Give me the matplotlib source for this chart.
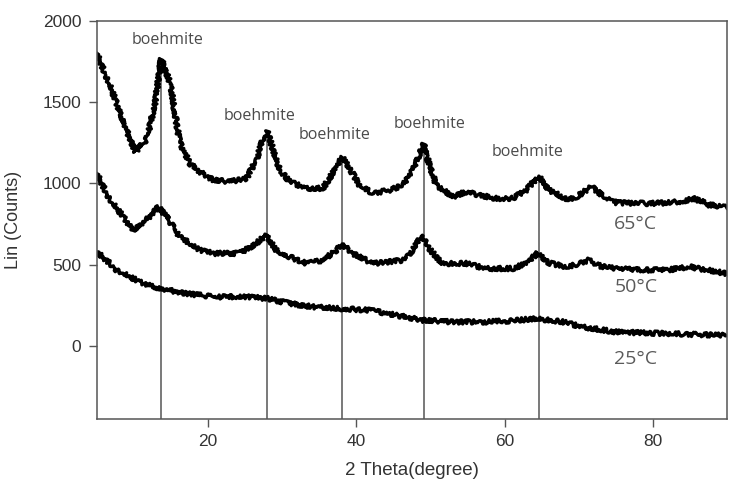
import numpy as np
import matplotlib
matplotlib.use("Agg")
import matplotlib.pyplot as plt

# XRD patterns (2 theta, counts)
x65 = [5, 6.3, 7.7, 9.0, 10.2, 11.7, 12.8, 13.7, 14.9, 16.2, 17.6, 18.9, 20.7, 22.9, 25.2, 26.5,
       27.4, 28.0, 28.8, 29.7, 31.0, 33.3, 35.5, 36.8, 38.1, 39.1, 40.4, 42.2, 44.5, 46.3, 47.6,
       49.1, 49.9, 50.8, 53.0, 54.8, 56.6, 58.8, 61.1, 62.9, 64.6, 66.0, 68.3, 69.5, 71.7, 73.2,
       75.1, 77.5, 79.6, 82.0, 84.0, 85.4, 86.5, 87.6, 90]
y65 = [1800, 1656, 1492, 1328, 1194, 1266, 1471, 1765, 1615, 1250, 1120, 1071, 1020, 1010, 1030, 1143,
       1266, 1317, 1204, 1081, 1010, 969, 969, 1061, 1160, 1092, 989, 938, 958, 989, 1081,
       1240, 1102, 989, 917, 948, 927, 907, 907, 958, 1045, 958, 905, 910, 979, 925,
       880, 878, 876, 880, 890, 907, 890, 866, 856]

x50 = [5, 6.8, 8.6, 9.9, 11.7, 13.3, 14.4, 16.2, 18.9, 20.7, 24.3, 26.5, 27.8, 29.2, 31.0, 33.3,
       35.5, 37.3, 38.1, 39.5, 42.2, 46.3, 47.6, 48.9, 49.6, 51.6, 54.8, 57.5, 61.1, 62.9, 64.4,
       66.0, 68.5, 71.3, 73.0, 75.1, 79.6, 82.5, 85.0, 87.5, 90]
y50 = [1061, 897, 794, 712, 774, 856, 794, 671, 589, 569, 569, 630, 681, 589, 548, 507,
       527, 589, 626, 569, 507, 527, 589, 681, 609, 507, 507, 476, 476, 507, 569,
       510, 483, 527, 490, 476, 466, 470, 486, 465, 445]

x25 = [5, 6.8, 7.7, 10.8, 13.5, 17.1, 20.7, 25.2, 27.9, 31.0, 34.2, 37.7, 41.8, 45.4, 49.0, 53.0,
       57.5, 61.1, 64.2, 67.8, 70.5, 75.0, 81.7, 86.0, 90]
y25 = [579, 507, 466, 394, 353, 322, 302, 302, 292, 261, 240, 230, 220, 189, 158, 148,
       148, 154, 169, 148, 117, 86, 76, 70, 66]

# boehmite reference lines (position, top of line) and label spots
peak_pos = [13.7, 28.0, 38.1, 49.1, 64.6]
peak_top = [1765, 1317, 1160, 1240, 1045]
label_x = [14.6, 27.0, 37.1, 49.9, 63.1]
label_y = [1882, 1413, 1297, 1364, 1194]

temp_labels = ["65°C", "50°C", "25°C"]
temp_y = [749, 363, -78]

fig = plt.figure(figsize=(7.3, 4.79), dpi=100)
ax = fig.add_axes([0.1325, 0.125, 0.8635, 0.832])

gray = "#555555"
for xs, ys in [(x65, y65), (x50, y50), (x25, y25)]:
    ln, = ax.plot(xs, ys, color="black", lw=2.4, solid_joinstyle="round")
    ln.set_sketch_params(scale=2.2, length=1.0, randomness=4)

ax.vlines(peak_pos, -450, peak_top, color=gray, lw=1.1, zorder=1)

for lx, ly in zip(label_x, label_y):
    ax.text(lx, ly, "boehmite", ha="center", va="center", fontsize=11.5,
            color="#4a4a4a", family="Open Sans")
for t, ty in zip(temp_labels, temp_y):
    ax.text(77.7, ty, t, ha="center", va="center", fontsize=14,
            color="#5a5a5a", family="Open Sans")

ax.set_xlim(5, 90)
ax.set_ylim(-450, 2000)
ax.set_xticks([20, 40, 60, 80])
ax.set_yticks([0, 500, 1000, 1500, 2000])
ax.tick_params(direction="out", length=6, width=1, color=gray,
               labelsize=12.5, labelcolor="#333333", pad=5)
for lab in ax.get_xticklabels() + ax.get_yticklabels():
    lab.set_family("Liberation Sans")
for sp in ax.spines.values():
    sp.set_color(gray)
    sp.set_linewidth(1.1)

ax.set_xlabel("2 Theta(degree)", fontsize=13.5, color="#333333", family="Liberation Sans")
ax.set_ylabel("Lin (Counts)", fontsize=13, color="#333333", family="Liberation Sans")
ax.xaxis.set_label_coords(0.5, -0.108)
ax.yaxis.set_label_coords(-0.118, 0.5)

fig.savefig("out.png", dpi=100)
